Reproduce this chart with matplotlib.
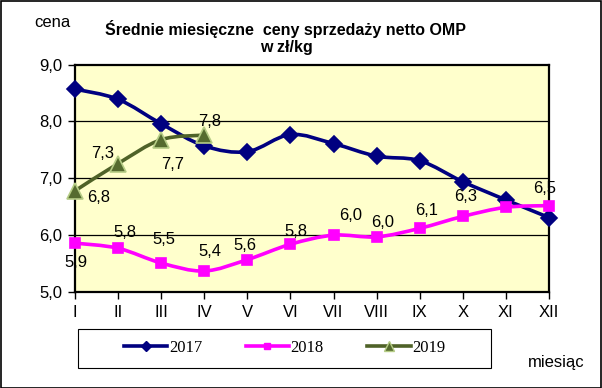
import numpy as np
import matplotlib
matplotlib.use('Agg')
import matplotlib.pyplot as plt
from matplotlib.path import Path
from matplotlib.patches import PathPatch, Rectangle
from matplotlib.lines import Line2D
from matplotlib.ticker import FuncFormatter

plt.rcParams['font.family'] = ['Liberation Sans', 'DejaVu Sans']

months = ['I', 'II', 'III', 'IV', 'V', 'VI', 'VII', 'VIII', 'IX', 'X', 'XI', 'XII']
y2017 = [8.57, 8.39, 7.96, 7.57, 7.47, 7.77, 7.61, 7.39, 7.31, 6.94, 6.62, 6.31]
y2018 = [5.86, 5.77, 5.51, 5.37, 5.57, 5.84, 6.00, 5.97, 6.12, 6.33, 6.49, 6.52]
y2019 = [6.78, 7.26, 7.68, 7.76]
labels_2018 = [True] * 10 + [False, True]

# label offsets in points (dx, dy)
off_2018 = [(1, -14), (5, 11), (2, 17), (4, 14), (-2, 10), (4, 9),
            (12, 14), (4, 10), (5, 13), (2, 14), (0, 0), (-3, 12)]
off_2019 = [(17, -5), (-11, 7), (8, -18), (4, 10)]

c17 = '#000080'
c18 = '#FF00FF'
c19 = '#4F6228'


def smooth_path(xs, ys, t=1 / 6.0):
    pts = np.column_stack([xs, ys]).astype(float)
    n = len(pts)
    verts = [pts[0]]
    codes = [Path.MOVETO]
    for i in range(n - 1):
        p0 = pts[i - 1] if i > 0 else pts[i]
        p1 = pts[i]
        p2 = pts[i + 1]
        p3 = pts[i + 2] if i + 2 < n else pts[i + 1]
        verts += [p1 + (p2 - p0) * t, p2 - (p3 - p1) * t, p2]
        codes += [Path.CURVE4] * 3
    return Path(verts, codes)


fig = plt.figure(figsize=(6.02, 3.88), dpi=100)
fig.patch.set_facecolor('white')
fig.add_artist(Rectangle((0.001, 0.001), 0.997, 0.996, transform=fig.transFigure,
                         fill=False, edgecolor='black', linewidth=1.2))

ax = fig.add_axes([0.1246, 0.2474, 0.7874, 0.5860])
ax.set_facecolor('#FFFFCC')
ax.set_xlim(0, 11)
ax.set_ylim(5, 9)
ax.set_yticks([5, 6, 7, 8, 9])
ax.yaxis.set_major_formatter(FuncFormatter(lambda v, p: f'{v:.1f}'.replace('.', ',')))
ax.set_xticks(range(12))
ax.set_xticklabels(months)
ax.tick_params(labelsize=12, length=5, width=1, color='black', pad=4)
for s in ax.spines.values():
    s.set_linewidth(1.6)
    s.set_color('black')
for g in [6, 7, 8]:
    ax.axhline(g, color='black', linewidth=0.9, zorder=1)

x = np.arange(12)
series = [
    (x, y2017, c17, 'D', 8, c17, c17, '2017'),
    (x, y2018, c18, 's', 7, c18, c18, '2018'),
    (x[:4], y2019, c19, '^', 11, '#556B2F', '#B5CC85', '2019'),
]
handles = []
for xs, ys, col, mk, ms, mfc, mec, name in series:
    ax.add_patch(PathPatch(smooth_path(xs, ys), facecolor='none', edgecolor=col,
                           linewidth=2.6, zorder=3, clip_on=False))
    ax.plot(xs, ys, linestyle='none', marker=mk, markersize=ms, markerfacecolor=mfc,
            markeredgecolor=mec, markeredgewidth=1.2, zorder=4, clip_on=False)
    handles.append(Line2D([], [], color=col, linewidth=2.6, marker=mk, markersize=ms * 0.6,
                          markerfacecolor=mfc, markeredgecolor=mec, label=name))

for i, v in enumerate(y2018):
    if labels_2018[i]:
        ax.annotate(f'{v:.1f}'.replace('.', ','), (i, v), xytext=off_2018[i],
                    textcoords='offset points', ha='center', va='center',
                    fontsize=12, zorder=5)
for i, v in enumerate(y2019):
    ax.annotate(f'{v:.1f}'.replace('.', ','), (i, v), xytext=off_2019[i],
                textcoords='offset points', ha='center', va='center',
                fontsize=12, zorder=5)

fig.text(0.475, 0.926, 'Średnie miesięczne  ceny sprzedaży netto OMP', ha='center',
         va='center', fontsize=11.5, fontweight='bold')
fig.text(0.475, 0.877, 'w zł/kg', ha='center', va='center', fontsize=11.5,
         fontweight='bold')
fig.text(0.087, 0.942, 'cena', ha='center', va='center', fontsize=12)
fig.text(0.924, 0.066, 'miesiąc', ha='center', va='center', fontsize=12)

fig.add_artist(Rectangle((0.1296, 0.0515), 0.6860, 0.1005, transform=fig.transFigure,
                         fill=False, edgecolor='black', linewidth=0.8))
fig.legend(handles=handles, loc='center', bbox_to_anchor=(0.473, 0.103), ncol=3,
           frameon=False, prop={'family': 'Liberation Serif', 'size': 12},
           handlelength=2.6, handletextpad=0.1, columnspacing=2.6)

fig.savefig('out.png', dpi=100)
